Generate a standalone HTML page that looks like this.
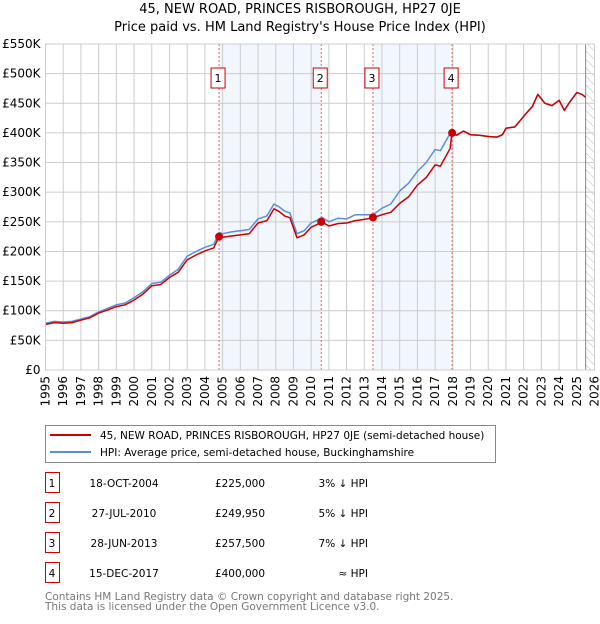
<!DOCTYPE html>
<html><head><meta charset="utf-8">
<style>
body{margin:0;background:#fff;font-family:"DejaVu Sans","Liberation Sans",sans-serif;}
svg text{font-family:"DejaVu Sans","Liberation Sans",sans-serif;}
</style></head>
<body>
<svg id="chart" width="600" height="620" xmlns="http://www.w3.org/2000/svg">
<defs><pattern id="hatch" width="6" height="6" patternUnits="userSpaceOnUse" patternTransform="rotate(-45)"><line x1="0" y1="0" x2="0" y2="6" stroke="#bbb" stroke-width="1"/></pattern></defs>
<text x="300" y="13" text-anchor="middle" font-size="13">45, NEW ROAD, PRINCES RISBOROUGH, HP27 0JE</text>
<text x="300" y="31" text-anchor="middle" font-size="13">Price paid vs. HM Land Registry's House Price Index (HPI)</text>
<g id="plot"></g>
<g>
<rect x="45.5" y="425.5" width="450" height="37" fill="#fff" stroke="#888"/>
<line x1="50" y1="435" x2="91" y2="435" stroke="#cc0000" stroke-width="2"/>
<text x="100" y="439" font-size="10.5">45, NEW ROAD, PRINCES RISBOROUGH, HP27 0JE (semi-detached house)</text>
<line x1="50" y1="452" x2="91" y2="452" stroke="#5b8ed6" stroke-width="2"/>
<text x="100" y="456" font-size="10.5">HPI: Average price, semi-detached house, Buckinghamshire</text>
</g>
<g id="table" font-size="10.5"></g>
<text x="45" y="600" font-size="10.5" fill="#777">Contains HM Land Registry data © Crown copyright and database right 2025.</text>
<text x="45" y="610" font-size="10.5" fill="#777">This data is licensed under the Open Government Licence v3.0.</text>
</svg>
<script>
const hpiYears=[1995,1995.5,1996,1996.5,1997,1997.5,1998,1998.5,1999,1999.5,2000,2000.5,2001,2001.5,2002,2002.5,2003,2003.5,2004,2004.5,2004.8,2005,2005.5,2006,2006.5,2007,2007.5,2007.9,2008.2,2008.5,2008.8,2009.2,2009.6,2010,2010.3,2010.6,2011,2011.5,2012,2012.5,2013,2013.5,2014,2014.5,2015,2015.5,2016,2016.5,2017,2017.3,2017.9,2018.2,2018.6,2019,2019.5,2020,2020.5,2020.8,2021,2021.5,2022,2022.5,2022.8,2023.2,2023.6,2024,2024.3,2024.6,2025,2025.3,2025.5];
const hpiValues=[79,82,81,82,86,90,98,104,110,113,122,132,146,148,160,170,192,200,207,212,232,230,233,235,237,255,260,280,275,268,265,230,235,248,252,258,250,256,255,262,262,262,273,280,302,315,335,350,372,370,402,396,403,397,396,394,393,397,408,410,428,445,465,450,446,455,438,452,468,465,460];
const redYears=[1995,1995.5,1996,1996.5,1997,1997.5,1998,1998.5,1999,1999.5,2000,2000.5,2001,2001.5,2002,2002.5,2003,2003.5,2004,2004.5,2004.8,2005,2005.5,2006,2006.5,2007,2007.5,2007.9,2008.2,2008.5,2008.8,2009.2,2009.6,2010,2010.3,2010.6,2011,2011.5,2012,2012.5,2013,2013.5,2014,2014.5,2015,2015.5,2016,2016.5,2017,2017.3,2017.85,2017.95,2018.2,2018.6,2019,2019.5,2020,2020.5,2020.8,2021,2021.5,2022,2022.5,2022.8,2023.2,2023.6,2024,2024.3,2024.6,2025,2025.3,2025.5];
const redValues=[77,80,79,80,84,88,96,101,107,110,118,128,142,144,156,165,186,194,201,206,225,224,226,228,230,248,252,272,267,260,257,223,228,241,245,250,243,247,248,252,254,257,262,266,281,292,312,325,346,344,374,400,396,403,397,396,394,393,397,408,410,428,445,465,450,446,455,438,452,468,465,460];
const saleYears=[2004.8,2010.57,2013.49,2017.96];
const salePrices=[225,249.95,257.5,400];
const saleLabels=['1','2','3','4'];
const saleDates=['18-OCT-2004','27-JUL-2010','28-JUN-2013','15-DEC-2017'];
const salePriceText=['£225,000','£249,950','£257,500','£400,000'];
const saleHpiText=['3% ↓ HPI','5% ↓ HPI','7% ↓ HPI','≈ HPI'];
const yTicks=[0,50,100,150,200,250,300,350,400,450,500,550];
const yTickLabels=['£0','£50K','£100K','£150K','£200K','£250K','£300K','£350K','£400K','£450K','£500K','£550K'];
const xTicks=[1995,1996,1997,1998,1999,2000,2001,2002,2003,2004,2005,2006,2007,2008,2009,2010,2011,2012,2013,2014,2015,2016,2017,2018,2019,2020,2021,2022,2023,2024,2025,2026];

const X0=45.5,X1=594.5,Y0=370,Y1=44;
const xs=y=>X0+(y-1995)/(2026-1995)*(X1-X0);
const ys=v=>Y0-v/550*(Y0-Y1);
const NS='http://www.w3.org/2000/svg';
const plot=document.getElementById('plot');
function mk(tag,attrs,parent){const e=document.createElementNS(NS,tag);for(const k in attrs)e.setAttribute(k,attrs[k]);(parent||plot).appendChild(e);return e;}

for(let i=0;i<saleYears.length-1;i+=2){
  const r=mk('rect',{x:xs(saleYears[i]),y:Y1,width:xs(saleYears[i+1])-xs(saleYears[i]),height:Y0-Y1,fill:'#f2f6fd'});
  
  
}
const h=mk('rect',{x:xs(2025.5),y:Y1,width:X1-xs(2025.5),height:Y0-Y1,fill:'url(#hatch)'});


yTicks.forEach((t,i)=>{
  const l=mk('line',{x1:X0,x2:X1,y1:ys(t),y2:ys(t),stroke:'#ccc','stroke-width':1});
  
  
  const tx=mk('text',{x:X0-5,y:ys(t)+4,'text-anchor':'end','font-size':12});
  tx.textContent=yTickLabels[i];
  
  
});
xTicks.forEach(t=>{
  const l=mk('line',{x1:xs(t),x2:xs(t),y1:Y1,y2:Y0,stroke:'#ccc','stroke-width':1});
  
  
  const tx=mk('text',{x:0,y:0,'text-anchor':'end','font-size':12,transform:`translate(${xs(t)+4},376) rotate(-90)`});
  tx.textContent=t;
  
  
});
const fl=mk('line',{x1:xs(2025.5),x2:xs(2025.5),y1:Y1,y2:Y0,stroke:'#888','stroke-width':1});


saleYears.forEach((s,i)=>{
  const l=mk('line',{x1:xs(s),x2:xs(s),y1:Y1,y2:Y0,stroke:'#e06666','stroke-width':1,'stroke-dasharray':'2,2'});
  
  
  const g=mk('g',{});
  
  
  mk('rect',{x:xs(s)-8,y:68,width:14,height:20,fill:'#fff',stroke:'#cc0000'},g);
  const tx=mk('text',{x:xs(s)-1,y:82,'text-anchor':'middle','font-size':11},g);
  tx.textContent=saleLabels[i];
});
function path(xa,va,color,name){
  const d=xa.map((x,i)=>(i?'L':'M')+xs(x).toFixed(1)+','+ys(va[i]).toFixed(1)).join('');
  const p=mk('path',{d,fill:'none',stroke:color,'stroke-width':1.5,'stroke-linejoin':'round'});
  
  
}
path(hpiYears,hpiValues,'#5b8ed6','hpi-line');
path(redYears,redValues,'#cc0000','price-paid-line');
saleYears.forEach((s,i)=>{
  const c=mk('circle',{cx:xs(s),cy:ys(salePrices[i]),r:4,fill:'#cc0000'});
  
  
});
mk('rect',{x:X0,y:Y1,width:X1-X0,height:Y0-Y1,fill:'none',stroke:'#ccc'});

const tb=document.getElementById('table');
const rowY=[483,513,543,573];
saleLabels.forEach((lab,i)=>{
  const g=mk('g',{},tb);
  
  
  mk('rect',{x:45.5,y:rowY[i]-10.5,width:14,height:20,fill:'#fff',stroke:'#cc0000'},g);
  const cells=[[52,'middle',lab],[124,'middle',saleDates[i]],[240,'middle',salePriceText[i]],[368,'end',saleHpiText[i]]];
  cells.forEach(c=>{const t=mk('text',{x:c[0],y:rowY[i]+4,'text-anchor':c[1]},g);t.textContent=c[2];});
});
</script>
</body></html>
